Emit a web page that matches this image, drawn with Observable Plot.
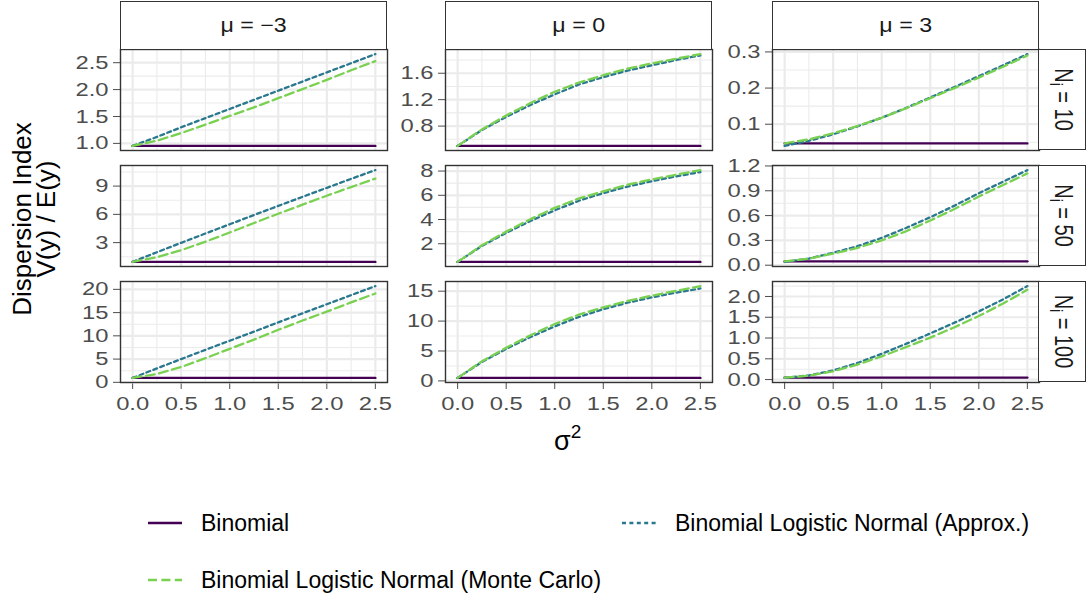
<!DOCTYPE html>
<html><head><meta charset="utf-8">
<script src="https://cdn.jsdelivr.net/npm/d3@7"></script>
<script src="https://cdn.jsdelivr.net/npm/@observablehq/plot@0.6"></script>
<style>
body{margin:0;background:#fff;font-family:"Liberation Sans",Arial,sans-serif;}
#root{position:relative;width:1088px;height:604px;overflow:hidden;background:#fff;}
.abs{position:absolute;}
.strip{position:absolute;box-sizing:border-box;border:1.4px solid #333;background:#fff;color:#1A1A1A;font-size:20px;display:flex;align-items:center;justify-content:center;}
.leg{position:absolute;font-size:23px;color:#000;white-space:nowrap;}
</style></head><body><div id="root"></div>
<script>
// ---- data ----
const sigma2 = [0, 0.25, 0.5, 0.75, 1.0, 1.25, 1.5, 1.75, 2.0, 2.25, 2.5];
const muLabels = ["μ = −3", "μ = 0", "μ = 3"];
const nLabels = ["10", "50", "100"];
const seriesNames = ["Binomial", "Binomial Logistic Normal (Approx.)", "Binomial Logistic Normal (Monte Carlo)"];
const seriesColors = ["#440154", "#2A788E", "#7AD151"];

const binomMuM3 = [0.953, 0.953, 0.953, 0.953, 0.953, 0.953, 0.953, 0.953, 0.953, 0.953, 0.953];
const binomMu0  = [0.5, 0.5, 0.5, 0.5, 0.5, 0.5, 0.5, 0.5, 0.5, 0.5, 0.5];
const binomMu3  = [0.047, 0.047, 0.047, 0.047, 0.047, 0.047, 0.047, 0.047, 0.047, 0.047, 0.047];

const approxM3N10  = [0.953, 1.12, 1.30, 1.47, 1.64, 1.81, 1.98, 2.15, 2.32, 2.49, 2.66];
const mcM3N10      = [0.953, 1.05, 1.19, 1.35, 1.51, 1.67, 1.84, 2.01, 2.18, 2.36, 2.53];
const approxM3N50  = [0.953, 1.98, 2.98, 3.97, 4.95, 5.93, 6.90, 7.86, 8.82, 9.77, 10.70];
const mcM3N50      = [0.953, 1.45, 2.20, 3.10, 4.08, 5.08, 6.07, 7.03, 7.98, 8.90, 9.80];
const approxM3N100 = [0.953, 3.0, 5.0, 7.0, 8.95, 10.9, 12.9, 14.85, 16.8, 18.75, 20.7];
const mcM3N100     = [0.953, 1.8, 3.3, 5.2, 7.2, 9.2, 11.3, 13.3, 15.2, 17.2, 19.1];

const approx0N10  = [0.5, 0.74, 0.94, 1.12, 1.28, 1.43, 1.54, 1.64, 1.72, 1.80, 1.87];
const mc0N10      = [0.5, 0.75, 0.96, 1.15, 1.32, 1.46, 1.57, 1.67, 1.75, 1.82, 1.89];
const approx0N50  = [0.5, 1.82, 2.90, 3.88, 4.76, 5.55, 6.18, 6.72, 7.16, 7.56, 7.92];
const mc0N50      = [0.5, 1.87, 3.00, 4.03, 4.96, 5.74, 6.33, 6.87, 7.31, 7.70, 8.08];
const approx0N100 = [0.5, 3.17, 5.35, 7.33, 9.11, 10.70, 11.98, 13.07, 13.96, 14.76, 15.45];
const mc0N100     = [0.5, 3.27, 5.55, 7.63, 9.51, 11.09, 12.28, 13.37, 14.26, 15.05, 15.85];

const approx3N10  = [0.040, 0.054, 0.072, 0.094, 0.118, 0.145, 0.174, 0.203, 0.233, 0.263, 0.294];
const mc3N10      = [0.047, 0.058, 0.075, 0.095, 0.118, 0.144, 0.172, 0.200, 0.229, 0.259, 0.290];
const approx3N50  = [0.040, 0.08, 0.15, 0.23, 0.33, 0.45, 0.58, 0.72, 0.87, 1.01, 1.15];
const mc3N50      = [0.047, 0.08, 0.14, 0.21, 0.30, 0.41, 0.54, 0.68, 0.83, 0.97, 1.11];
const approx3N100 = [0.040, 0.10, 0.22, 0.40, 0.62, 0.86, 1.11, 1.37, 1.64, 1.93, 2.25];
const mc3N100     = [0.047, 0.09, 0.20, 0.36, 0.56, 0.78, 1.01, 1.26, 1.53, 1.83, 2.16];

const xTicks = [0, 0.5, 1.0, 1.5, 2.0, 2.5];
const yTicksM3N10 = [1.0, 1.5, 2.0, 2.5];
const yTicks0N10 = [0.8, 1.2, 1.6];
const yTicks3N10 = [0.1, 0.2, 0.3];
const yTicksM3N50 = [3, 6, 9];
const yTicks0N50 = [2, 4, 6, 8];
const yTicks3N50 = [0.0, 0.3, 0.6, 0.9, 1.2];
const yTicksM3N100 = [0, 5, 10, 15, 20];
const yTicks0N100 = [0, 5, 10, 15];
const yTicks3N100 = [0.0, 0.5, 1.0, 1.5, 2.0];

// ---- layout ----
const PW = 267, PH = 101;
const colLeft = [120, 445, 772];
const rowTop = [49, 165, 281];
const TEXT_STRETCH = 1.25;
const root = document.getElementById("root");

const binoms = [binomMuM3, binomMu0, binomMu3];
const grid = [
  [[approxM3N10, mcM3N10, yTicksM3N10, 1], [approx0N10, mc0N10, yTicks0N10, 1], [approx3N10, mc3N10, yTicks3N10, 1]],
  [[approxM3N50, mcM3N50, yTicksM3N50, 0], [approx0N50, mc0N50, yTicks0N50, 0], [approx3N50, mc3N50, yTicks3N50, 1]],
  [[approxM3N100, mcM3N100, yTicksM3N100, 0], [approx0N100, mc0N100, yTicks0N100, 0], [approx3N100, mc3N100, yTicks3N100, 1]]
];

function minorOf(t, dom) {
  const s = t[1] - t[0];
  const m = [t[0] - s / 2, ...t.map(v => v + s / 2)];
  return m.filter(v => v >= dom[0] && v <= dom[1]);
}
const toRows = arr => arr.map((v, i) => ({x: sigma2[i], y: v}));
const xDomain = [-0.125, 2.625];
const dashApprox = "4,3.4", dashMC = "9,4.4";

for (let r = 0; r < 3; r++) {
  for (let c = 0; c < 3; c++) {
    const [ap, mc, yt, dec] = grid[r][c];
    const bn = binoms[c];
    const all = [...ap, ...mc, ...bn];
    const lo = d3.min(all), hi = d3.max(all), pad = (hi - lo) * 0.05;
    const yDom = [lo - pad, hi + pad];
    const mL = 75, mB = r === 2 ? 40 : 0;
    const svg = Plot.plot({
      width: PW + mL, height: PH + mB,
      marginLeft: mL, marginRight: 0, marginTop: 0, marginBottom: mB,
      style: {fontFamily: '"Liberation Sans", Arial, sans-serif', fontSize: "19px", color: "#4D4D4D", background: "transparent", overflow: "visible"},
      x: {domain: xDomain, ticks: xTicks, tickFormat: d3.format(".1f"), tickSize: 7, tickPadding: 7, label: null, axis: r === 2 ? "bottom" : null},
      y: {domain: yDom, ticks: yt, tickFormat: d3.format(dec ? ".1f" : "d"), tickSize: 7, tickPadding: 5, label: null},
      marks: [
        Plot.ruleX(minorOf(xTicks, xDomain), {stroke: "#EBEBEB", strokeWidth: 1.1}),
        Plot.ruleY(minorOf(yt, yDom), {stroke: "#EBEBEB", strokeWidth: 1.1}),
        Plot.ruleX(xTicks, {stroke: "#EBEBEB", strokeWidth: 2.2}),
        Plot.ruleY(yt, {stroke: "#EBEBEB", strokeWidth: 2.2}),
        Plot.line(toRows(bn), {x: "x", y: "y", stroke: seriesColors[0], strokeWidth: 2.4}),
        Plot.line(toRows(ap), {x: "x", y: "y", stroke: seriesColors[1], strokeWidth: 2.3, strokeDasharray: dashApprox}),
        Plot.line(toRows(mc), {x: "x", y: "y", stroke: seriesColors[2], strokeWidth: 2.3, strokeDasharray: dashMC}),
        Plot.frame({stroke: "#333333", strokeWidth: 1.4})
      ]
    });
    const wrap = document.createElement("div");
    wrap.className = "abs";
    wrap.style.left = (colLeft[c] - mL) + "px";
    wrap.style.top = rowTop[r] + "px";
    wrap.appendChild(svg);
    root.appendChild(wrap);
    svg.querySelectorAll("text").forEach(t => {
      const L = t.getComputedTextLength();
      t.setAttribute("textLength", (L * TEXT_STRETCH).toFixed(2));
      t.setAttribute("lengthAdjust", "spacingAndGlyphs");
    });
  }
}

// strips
for (let c = 0; c < 3; c++) {
  const s = document.createElement("div");
  s.className = "strip";
  s.style.left = colLeft[c] + "px"; s.style.top = "1px";
  s.style.width = PW + "px"; s.style.height = "49px";
  s.innerHTML = `<span style="display:inline-block;transform:scaleX(1.16)">${muLabels[c]}</span>`;
  root.appendChild(s);
}
for (let r = 0; r < 3; r++) {
  const s = document.createElement("div");
  s.className = "strip";
  s.style.left = (colLeft[2] + PW - 1) + "px"; s.style.top = rowTop[r] + "px";
  s.style.width = "48px"; s.style.height = PH + "px";
  s.innerHTML = `<span style="display:inline-block;white-space:nowrap;transform:rotate(90deg) scaleY(1.3)">N<sub style="font-size:14px;vertical-align:-4px">i</sub>&nbsp;= ${nLabels[r]}</span>`;
  root.appendChild(s);
}

// axis titles
const yTitle = document.createElement("div");
yTitle.style.cssText = "position:absolute;left:-112px;top:191px;width:300px;height:56px;transform:rotate(-90deg);text-align:center;font-size:26px;line-height:24px;color:#000;";
yTitle.innerHTML = "Dispersion Index<br>V(y) / E(y)";
root.appendChild(yTitle);

const xTitle = document.createElement("div");
xTitle.style.cssText = "position:absolute;left:554px;top:423px;font-size:27px;color:#000;";
xTitle.innerHTML = 'σ<sup style="font-size:19px;position:relative;top:-2px">2</sup>';
root.appendChild(xTitle);

// legend
const legItems = [
  {i: 0, kx: 148, tx: 201, y: 523, dash: null, w: 2.4},
  {i: 1, kx: 622, tx: 675, y: 523, dash: dashApprox, w: 2.3},
  {i: 2, kx: 148, tx: 201, y: 580, dash: dashMC, w: 2.3}
];
for (const it of legItems) {
  const k = document.createElementNS("http://www.w3.org/2000/svg", "svg");
  k.setAttribute("width", 34); k.setAttribute("height", 10);
  k.style.cssText = `position:absolute;left:${it.kx}px;top:${it.y - 5}px;`;
  const ln = document.createElementNS("http://www.w3.org/2000/svg", "line");
  ln.setAttribute("x1", 0); ln.setAttribute("x2", 34); ln.setAttribute("y1", 5); ln.setAttribute("y2", 5);
  ln.setAttribute("stroke", seriesColors[it.i]); ln.setAttribute("stroke-width", it.w);
  if (it.dash) ln.setAttribute("stroke-dasharray", it.dash);
  k.appendChild(ln);
  root.appendChild(k);
  const t = document.createElement("div");
  t.className = "leg";
  t.style.left = it.tx + "px"; t.style.top = (it.y - 14) + "px";
  t.style.lineHeight = "28px";
  t.textContent = seriesNames[it.i];
  root.appendChild(t);
}
</script></body></html>
